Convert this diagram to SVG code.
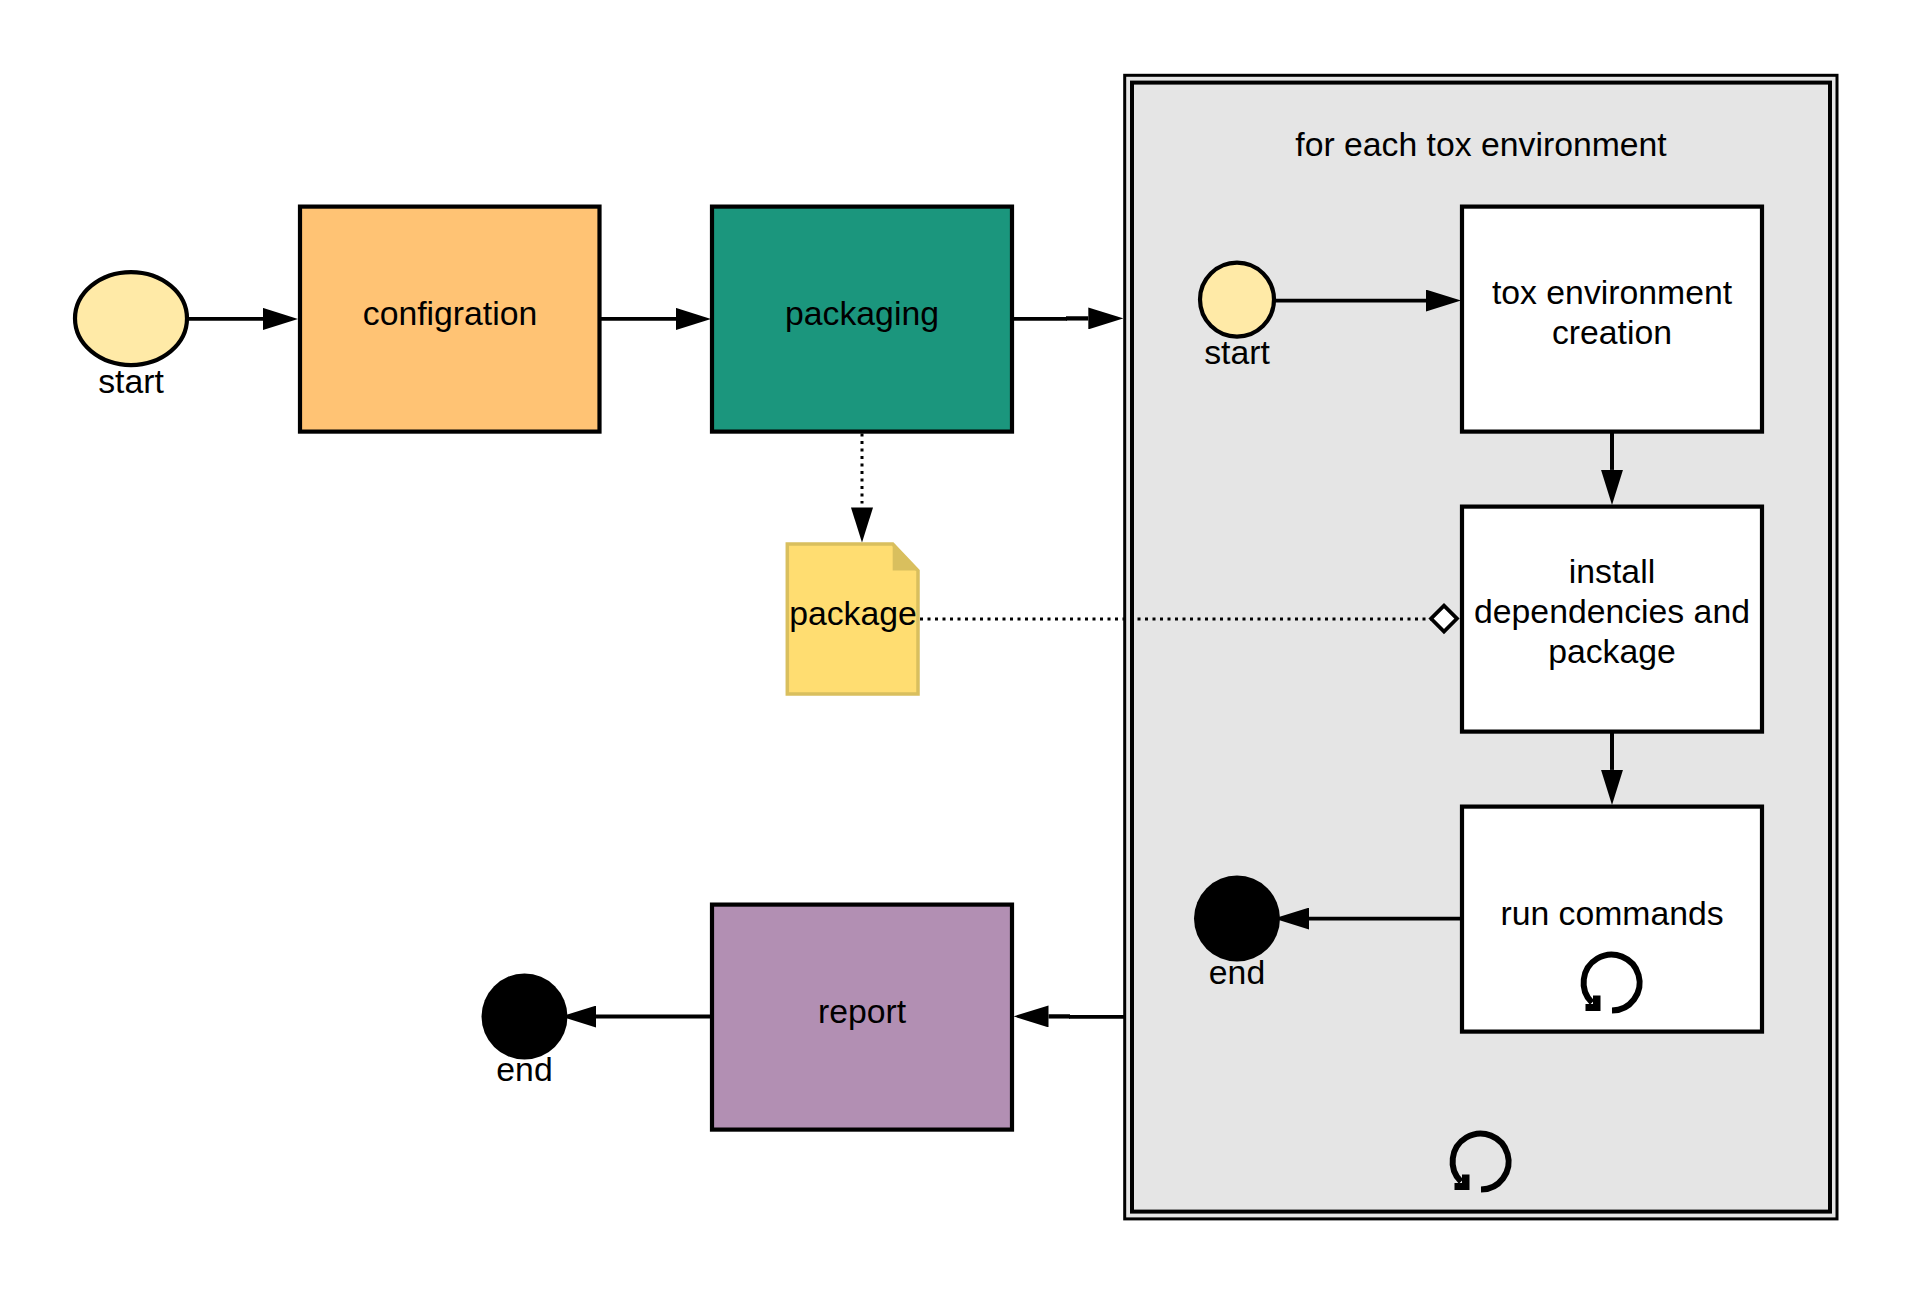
<svg xmlns="http://www.w3.org/2000/svg" width="1913" height="1294" viewBox="0 0 1913 1294">
<style>
text{font-family:"Liberation Sans",Arial,sans-serif;font-size:33.75px;fill:#000;text-anchor:middle}
.box{stroke:#000;stroke-width:4.2}
.ev{stroke:#000;stroke-width:4.2}
.ln{fill:none;stroke:#000;stroke-width:3.6}
.dot{fill:none;stroke:#000;stroke-width:3;stroke-dasharray:3 4.5}
</style>
<defs>
<marker id="arrow" markerUnits="userSpaceOnUse" markerWidth="35" markerHeight="22" refX="0" refY="11" orient="auto"><path d="M0 0L35 11L0 22Z" fill="#000"/></marker>
<g id="loop"><path d="M1612 1010A28 28 0 1 0 1592 1002" fill="none" stroke="#000" stroke-width="6"/><path d="M1593 995H1600.5V1010.5H1585.5V1003.5H1593Z" fill="#000"/></g>
</defs>
<g transform="translate(0 .6)">
<g id="tox-loop">
<rect x="1124.7" y="74.7" width="712.3" height="1143.6" fill="#e5e5e5" stroke="#000" stroke-width="3"/>
<rect x="1132" y="82" width="698" height="1129" fill="#e5e5e5" stroke="#000" stroke-width="4"/>
<text x="1481" y="155.6">for each tox environment</text>
<use href="#loop" transform="translate(-131 179)"/>
</g>
<g id="connectors">
<path class="ln" d="M187 318.3H263" marker-end="url(#arrow)"/>
<path class="ln" d="M600 318.3H676" marker-end="url(#arrow)"/>
<path class="ln" d="M1012 318.3H1067"/>
<path class="ln" style="stroke-width:4.3" d="M1066 317.8H1088.3" marker-end="url(#arrow)"/>
<path class="dot" d="M862 433V503"/>
<path d="M851 507H873L862 542Z" fill="#000"/>
<path class="dot" d="M920 618.3H1432"/>
<path class="ln" d="M1275 300H1426" marker-end="url(#arrow)"/>
<path class="ln" style="stroke-width:4" d="M1612 431V469.3" marker-end="url(#arrow)"/>
<path class="ln" style="stroke-width:4" d="M1612 731V769.3" marker-end="url(#arrow)"/>
<path class="ln" d="M1462 918H1309" marker-end="url(#arrow)"/>
<path class="ln" d="M1124 1016.3H1069"/>
<path class="ln" style="stroke-width:4.3" d="M1070 1015.8H1048.5" marker-end="url(#arrow)"/>
<path class="ln" style="stroke-width:4" d="M712 1016H596" marker-end="url(#arrow)"/>
<path d="M1431 618L1444 605L1457 618L1444 631Z" fill="#fff" stroke="#000" stroke-width="3.7"/>
</g>
<g id="start-1"><ellipse class="ev" cx="131" cy="318" rx="56" ry="46.5" fill="#ffeaa7"/><text x="131" y="392">start</text></g>
<g id="configration"><rect class="box" x="300" y="206" width="299.5" height="225" fill="#ffc374"/><text x="450" y="324.6">configration</text></g>
<g id="packaging"><rect class="box" x="712" y="206" width="300" height="225" fill="#1b967d"/><text x="862" y="324.6">packaging</text></g>
<g id="package"><path d="M787.3 543.5H892.7L918 570V693.5H787.3Z" fill="#ffdd71" stroke="#d9bf5e" stroke-width="3.5"/><path d="M892.7 543.5L918 570H892.7Z" fill="#d9bf5e"/><text x="853" y="624.6">package</text></g>
<g id="report"><rect class="box" x="712" y="904" width="300" height="225" fill="#b28fb3"/><text x="862" y="1022.6">report</text></g>
<g id="end-1"><circle cx="524.5" cy="1016" r="43"/><text x="524.5" y="1080">end</text></g>
<g id="start-2"><circle class="ev" cx="1237" cy="299" r="37" fill="#ffeaa7"/><text x="1237" y="363.8">start</text></g>
<g id="creation"><rect class="box" x="1462" y="206" width="300" height="225" fill="#fff"/><text x="1612" y="303.1">tox environment</text><text x="1612" y="343.1">creation</text></g>
<g id="install"><rect class="box" x="1462" y="506" width="300" height="225" fill="#fff"/><text x="1612" y="582.3">install</text><text x="1612" y="622.3">dependencies and</text><text x="1612" y="662.3">package</text></g>
<g id="run"><rect class="box" x="1462" y="806" width="300" height="225" fill="#fff"/><text x="1612" y="924.6">run commands</text><use href="#loop"/></g>
<g id="end-2"><circle cx="1237" cy="918" r="43"/><text x="1237" y="983">end</text></g>
</g>
</svg>
